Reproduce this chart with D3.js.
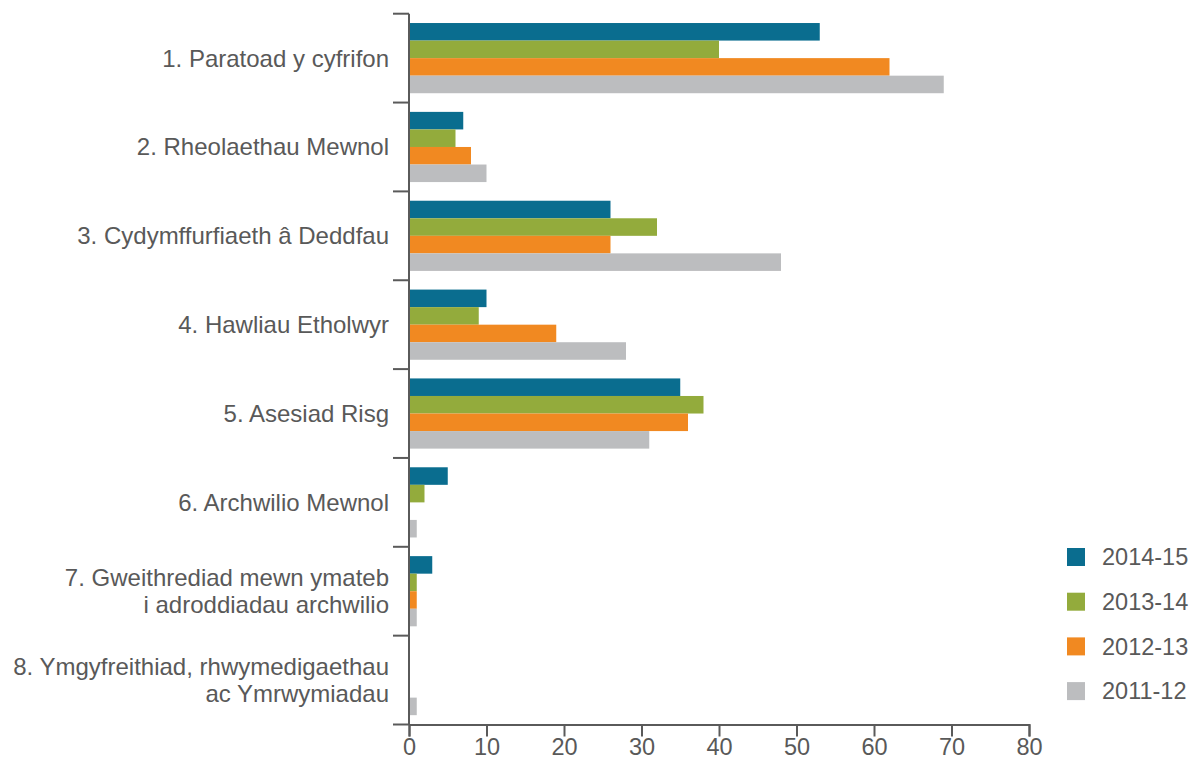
<!DOCTYPE html>
<html>
<head>
<meta charset="utf-8">
<script src="https://cdn.jsdelivr.net/npm/d3@7"></script>
<style>
  body { margin: 0; background: #fff; }
  text { font-family: "Liberation Sans", Arial, sans-serif; fill: #595959; }
</style>
</head>
<body>
<div id="chart"></div>
<script>
// categories (each one may wrap onto two lines)
var categories = [
    ["1. Paratoad y cyfrifon"],
    ["2. Rheolaethau Mewnol"],
    ["3. Cydymffurfiaeth \u00e2 Deddfau"],
    ["4. Hawliau Etholwyr"],
    ["5. Asesiad Risg"],
    ["6. Archwilio Mewnol"],
    ["7. Gweithrediad mewn ymateb", "i adroddiadau archwilio"],
    ["8. Ymgyfreithiad, rhwymedigaethau", "ac Ymrwymiadau"]
];
var seriesNames = ["2014-15", "2013-14", "2012-13", "2011-12"];
var seriesColors = ["#0a6d8f", "#93ab3c", "#f18921", "#bcbdbf"];

// one array per year, in category order
var v201415 = [53, 7, 26, 10, 35, 5, 3, 0];
var v201314 = [40, 6, 32, 9, 38, 2, 1, 0];
var v201213 = [62, 8, 26, 19, 36, 0, 1, 0];
var v201112 = [69, 10, 48, 28, 31, 1, 1, 1];
var seriesValues = [v201415, v201314, v201213, v201112];

var xTicks = [0, 10, 20, 30, 40, 50, 60, 70, 80];

var W = 1195, H = 762;
var mLeft = 409, mRight = 1029, mTop = 13.7, mBottom = 724.5;
var axisColor = "#5a5a5a";
var labelPx = "24px", smallPx = "23.5px";

var svg = d3.select("#chart").append("svg")
    .attr("width", W)
    .attr("height", H);

var catIds = categories.map(function (c, i) { return i; });

var x = d3.scaleLinear().domain([0, 80]).range([mLeft, mRight]);
var y0 = d3.scaleBand().domain(catIds).range([mTop, mBottom]);
var pad = y0.bandwidth() * 0.105;
var y1 = d3.scaleBand().domain(seriesNames).range([pad, y0.bandwidth() - pad]);

// bars
var groups = svg.append("g").selectAll("g")
    .data(catIds)
    .join("g")
    .attr("transform", function (i) { return "translate(0," + y0(i) + ")"; });

groups.selectAll("rect")
    .data(function (i) {
        return seriesNames.map(function (s, k) {
            return { s: s, v: seriesValues[k][i], c: seriesColors[k] };
        });
    })
    .join("rect")
    .attr("x", x(0))
    .attr("y", function (d) { return y1(d.s); })
    .attr("height", y1.bandwidth())
    .attr("width", function (d) { return x(d.v) - x(0); })
    .attr("fill", function (d) { return d.c; });

// x axis
var xAxis = svg.append("g")
    .attr("transform", "translate(0," + mBottom + ")")
    .call(d3.axisBottom(x).tickValues(xTicks).tickSizeOuter(0).tickSize(12).tickPadding(2));
xAxis.select(".domain").attr("stroke", axisColor).attr("stroke-width", 2);
xAxis.selectAll(".tick line").attr("stroke", axisColor).attr("stroke-width", 2);
xAxis.selectAll(".tick text")
    .style("font-size", smallPx)
    .attr("fill", "#595959");

// y axis: line plus ticks on the band edges
svg.append("line")
    .attr("x1", mLeft).attr("x2", mLeft)
    .attr("y1", mTop).attr("y2", mBottom)
    .attr("stroke", axisColor).attr("stroke-width", 2);

var edges = catIds.map(function (i) { return y0(i); }).concat([mBottom]);
svg.append("g").selectAll("line")
    .data(edges)
    .join("line")
    .attr("x1", mLeft - 16).attr("x2", mLeft)
    .attr("y1", function (d) { return d; })
    .attr("y2", function (d) { return d; })
    .attr("stroke", axisColor).attr("stroke-width", 2);

// category labels
var lineH = 27;
svg.append("g").selectAll("text")
    .data(catIds)
    .join("text")
    .attr("text-anchor", "end")
    .style("font-size", labelPx)
    .attr("y", function (i) {
        return y0(i) + y0.bandwidth() / 2 - (categories[i].length - 1) * lineH / 2;
    })
    .each(function (i) {
        var t = d3.select(this);
        var yy = +t.attr("y");
        categories[i].forEach(function (line, k) {
            t.append("tspan")
                .attr("x", 389)
                .attr("y", yy + k * lineH)
                .attr("dy", "0.35em")
                .text(line);
        });
    });

// legend
var legend = svg.append("g").selectAll("g")
    .data(seriesNames)
    .join("g")
    .attr("transform", function (d, k) { return "translate(1067," + (548 + k * 44.7) + ")"; });
legend.append("rect")
    .attr("width", 18).attr("height", 18)
    .attr("fill", function (d, k) { return seriesColors[k]; });
legend.append("text")
    .attr("x", 35).attr("y", 9).attr("dy", "0.35em")
    .style("font-size", smallPx)
    .text(function (d) { return d; });
</script>
</body>
</html>
